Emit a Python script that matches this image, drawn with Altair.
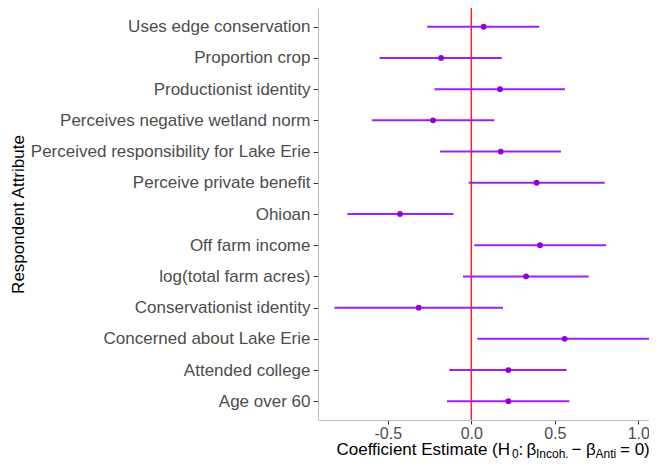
import altair as alt
import pandas as pd

attributes = [
    "Uses edge conservation", "Proportion crop", "Productionist identity",
    "Perceives negative wetland norm", "Perceived responsibility for Lake Erie",
    "Perceive private benefit", "Ohioan", "Off farm income",
    "log(total farm acres)", "Conservationist identity",
    "Concerned about Lake Erie", "Attended college", "Age over 60",
]
estimate = [0.074, -0.181, 0.172, -0.229, 0.176, 0.391, -0.427, 0.411, 0.328, -0.315, 0.559, 0.222, 0.222]
lower = [-0.264, -0.549, -0.221, -0.595, -0.187, -0.016, -0.742, 0.018, -0.050, -0.820, 0.036, -0.132, -0.146]
upper = [0.407, 0.182, 0.561, 0.138, 0.537, 0.799, -0.108, 0.807, 0.703, 0.190, 1.082, 0.571, 0.587]
x_ticks = [-0.5, 0.0, 0.5, 1.0]
reference = [0.0]

df = pd.DataFrame({"attr": attributes, "est": estimate, "lo": lower, "hi": upper})
ref_df = pd.DataFrame({"x0": reference})

W, H = 331, 412
FONT = "Liberation Sans"

xscale = alt.Scale(domain=[-0.918, 1.064], nice=False, zero=False)
yscale = alt.Scale(type="point", padding=0.6)

y_enc = alt.Y(
    "attr:N", sort=attributes, scale=yscale,
    axis=alt.Axis(title="Respondent Attribute", titleX=-300, titleY=H / 2,
                  titleAngle=-90, titleBaseline="middle", titleAlign="center",
                  labelLimit=500, tickSize=5, labelPadding=3),
)
x_axis = alt.Axis(
    values=x_ticks, title=None, labelFlush=False, tickSize=4, labelPadding=1,
    labelFontSize=16,
    labelExpr="datum.value < 0 ? '-' + format(-datum.value, '.1f') : format(datum.value, '.1f')",
)

base = alt.Chart(df)

ci = base.mark_rule(color="#A020F0", strokeWidth=2).encode(
    x=alt.X("lo:Q", scale=xscale, axis=x_axis),
    x2="hi:Q",
    y=y_enc,
)
pts = base.mark_point(filled=True, color="#9400D3", opacity=1, size=34).encode(
    x=alt.X("est:Q", scale=xscale, axis=x_axis),
    y=y_enc,
)
vline = alt.Chart(ref_df).mark_rule(color="#FF2020", strokeWidth=1.5).encode(
    x=alt.X("x0:Q", scale=xscale, axis=x_axis),
)

# x-axis title with subscripts, built from text pieces
title_pieces = [
    ("Coefficient Estimate (H", 17, 18.5, 0),
    ("0", 12, 194, 3),
    (":", 17, 200.5, 0),
    ("β", 17, 208.5, 0),
    ("Incoh.", 12, 218, 3),
    ("−", 17, 253.5, 0),
    ("β", 17, 268, 0),
    ("Anti", 12, 277.5, 3),
    ("= 0)", 17, 302, 0),
]
title_layers = []
for txt, fs, px, dy in title_pieces:
    title_layers.append(
        alt.Chart(alt.Data(values=[{"t": txt}])).mark_text(
            align="left", baseline="alphabetic", fontSize=fs, font=FONT, color="black"
        ).encode(x=alt.value(px), y=alt.value(H + 35 + dy), text="t:N")
    )

chart = alt.layer(vline, ci, pts, *title_layers).properties(
    width=W, height=H,
    autosize=alt.AutoSizeParams(type="none"),
    padding={"left": 310, "top": 0, "right": 0, "bottom": 47},
).configure(font=FONT).configure_view(stroke=None).configure_axis(
    grid=False,
    domainColor="#BDBDBD",
    domainWidth=1,
    tickColor="#333333",
    labelFont=FONT,
    labelFontSize=17,
    labelColor="#4D4D4D",
    titleFont=FONT,
    titleFontSize=17,
    titleColor="black",
    titleFontWeight="normal",
)

chart.save("out.html", embed_options={"renderer": "svg", "actions": False})
